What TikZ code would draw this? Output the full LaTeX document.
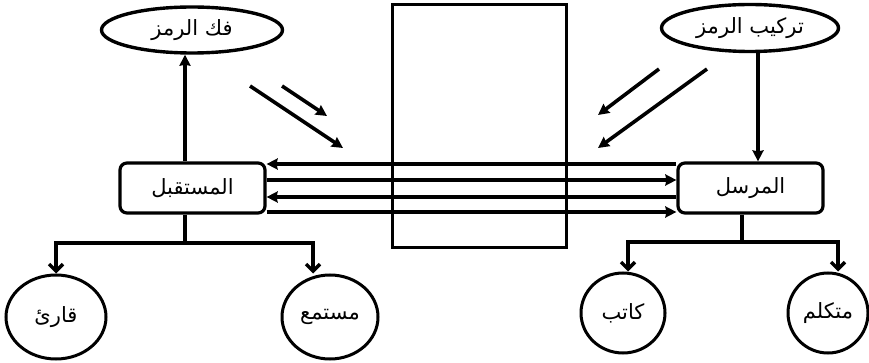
\documentclass[tikz,border=0pt]{standalone}
\usepackage{fontspec}
\newfontfamily\arabicfont[Script=Arabic]{DejaVu Sans}
\TeXXeTstate=1
\usetikzlibrary{arrows.meta,shapes.geometric}
\newcommand{\artxt}[1]{{\arabicfont\fontsize{21}{24}\selectfont\beginR #1\endR}}
\begin{document}
\begin{tikzpicture}[x=1pt,y=-1pt,
  ln/.style={line width=3.6pt},
  tri/.style={ln,-{Stealth[length=11pt,width=11pt,inset=1pt]}},
  barb/.style={ln,-{Straight Barb[length=7pt,width=14pt,line width=3.4pt]}},
  ell/.style={draw,ellipse,line width=3.4pt,inner sep=0pt},
  circ/.style={draw,ellipse,line width=3pt,inner sep=0pt},
  box/.style={draw,rounded corners=7pt,line width=3.2pt,inner sep=0pt}]
\useasboundingbox (0,0) rectangle (869,363);
% channel
\node[draw,line width=3pt,minimum width=174pt,minimum height=242pt,inner sep=0pt] (chan) at (479,126) {};
% top ellipses
\node[ell,minimum width=181pt,minimum height=46pt] (dec) at (192,30) {\artxt{فك الرمز}};
\node[ell,minimum width=177pt,minimum height=47pt] (enc) at (750,28) {\artxt{تركيب الرمز}};
% boxes
\node[box,fill=white,minimum width=145pt,minimum height=50pt] (recv) at (192.5,188) {\artxt{المستقبل}};
\node[box,fill=white,minimum width=145pt,minimum height=50pt] (send) at (750.5,188) {\artxt{المرسل}};
% bottom circles
\node[circ,minimum width=100pt,minimum height=84pt] (qari) at (56,317) {\artxt{قارئ}};
\node[circ,minimum width=96pt,minimum height=84pt] (must) at (330,317) {\artxt{مستمع}};
\node[circ,minimum width=84pt,minimum height=80pt] (katib) at (623,313) {\artxt{كاتب}};
\node[circ,minimum width=80pt,minimum height=80pt] (mutak) at (828,313) {\artxt{متكلم}};
% vertical arrows
\draw[tri] ([xshift=-7.5pt]recv.north) -- ([xshift=-7.5pt]recv.north |- dec.south);
\draw[tri] ([xshift=8pt]enc.south) -- ([xshift=8pt]enc.south |- send.north);
% horizontal connectors
\draw[tri] (send.west |- 0,164) -- (recv.east |- 0,164);
\draw[tri] (recv.east |- 0,180) -- (send.west |- 0,180);
\draw[tri] (send.west |- 0,197) -- (recv.east |- 0,197);
\draw[tri] (recv.east |- 0,212) -- (send.west |- 0,212);
% diagonal arrows
\coordinate (a1) at (250,86); \coordinate (a2) at (343,148);
\coordinate (b1) at (282,86); \coordinate (b2) at (327,116);
\coordinate (c1) at (659,69); \coordinate (c2) at (598,115);
\coordinate (d1) at (707,69); \coordinate (d2) at (598,148);
\draw[tri] (a1) -- (a2);
\draw[tri] (b1) -- (b2);
\draw[tri] (c1) -- (c2);
\draw[tri] (d1) -- (d2);
% bottom trees
\coordinate (lj) at (185,243);
\draw[ln] ([xshift=-7.5pt]recv.south) -- (lj);
\draw[barb] (lj) -| (qari.north);
\draw[barb] (lj) -| ([xshift=-17pt]must.north);
\coordinate (rj) at (742,242);
\draw[ln] ([xshift=-8.5pt]send.south) -- (rj);
\draw[barb] (rj) -| ([xshift=5pt]katib.north);
\draw[barb] (rj) -| ([xshift=10pt]mutak.north);
\end{tikzpicture}
\end{document}
